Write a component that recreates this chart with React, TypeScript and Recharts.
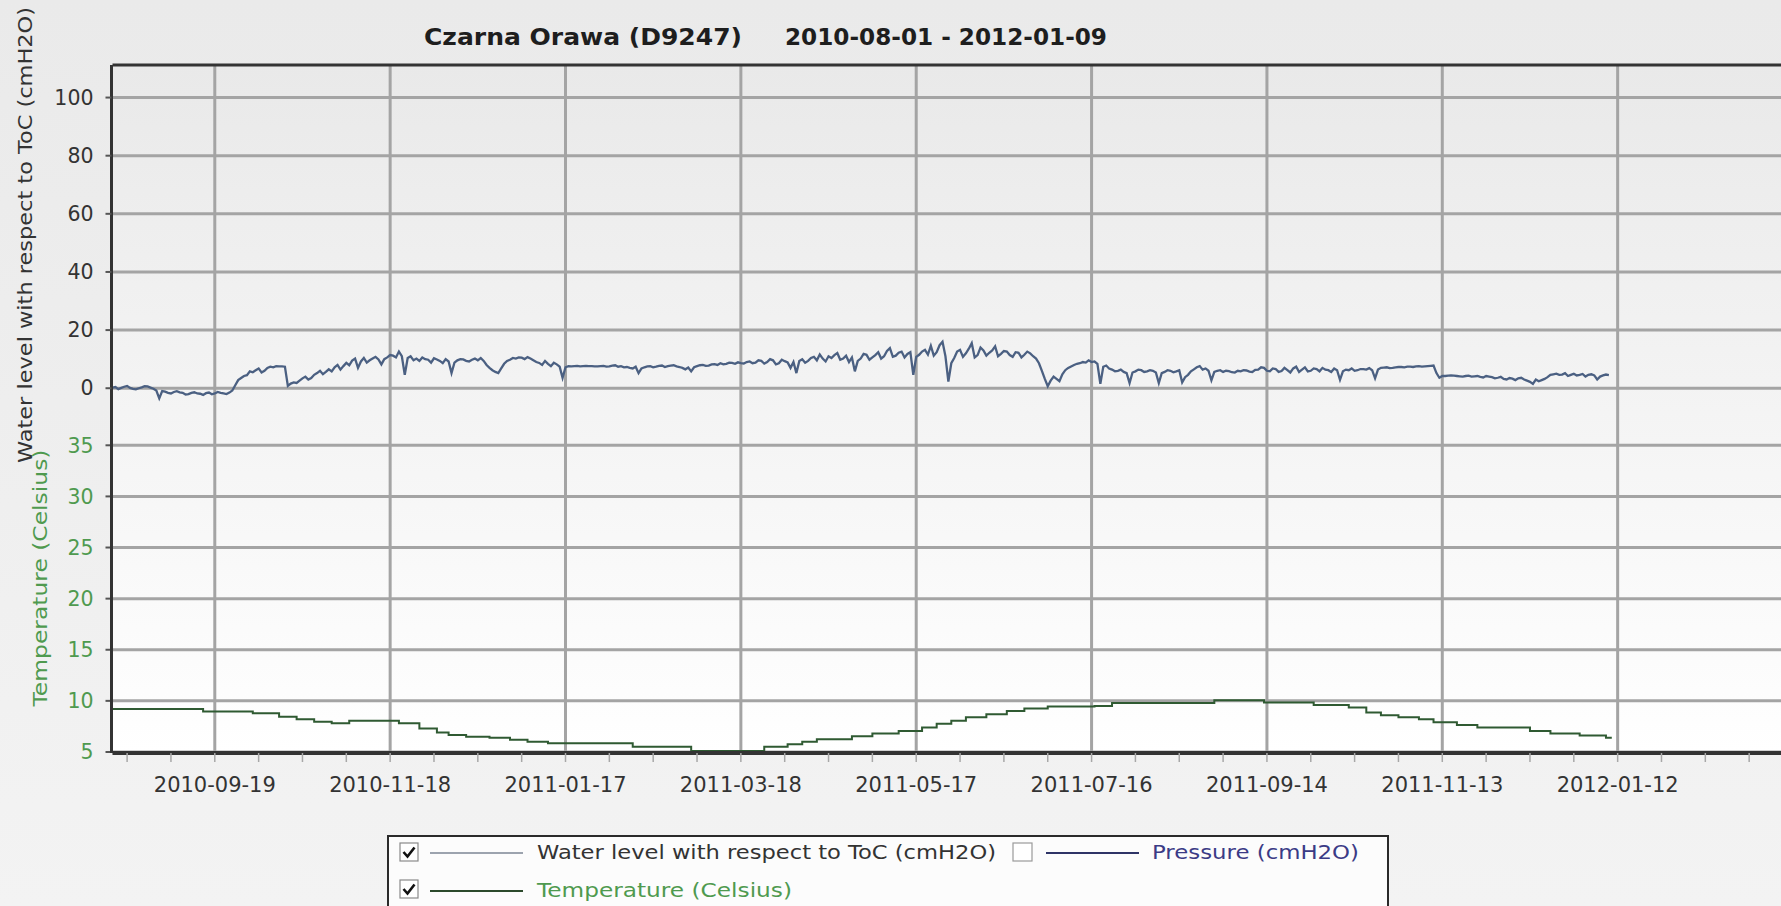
import React from 'react';
import { ComposedChart, Line, XAxis, YAxis, CartesianGrid } from 'recharts';

const FONT = '"DejaVu Sans", Verdana, sans-serif';

const TITLE_STATION = 'Czarna Orawa (D9247)';
const TITLE_RANGE = '2010-08-01 - 2012-01-09';
const WATER_LABEL = 'Water level with respect to ToC (cmH2O)';
const TEMP_LABEL = 'Temperature (Celsius)';
const PRESSURE_LABEL = 'Pressure (cmH2O)';

const X_DOMAIN = ['2010-08-15', '2012-03-25'];
const MAJOR_TICK_DATES = [
  '2010-09-19', '2010-11-18', '2011-01-17', '2011-03-18', '2011-05-17',
  '2011-07-16', '2011-09-14', '2011-11-13', '2012-01-12',
];
const MINOR_TICK_STEP_DAYS = 15;
const WATER_TICKS = [0, 20, 40, 60, 80, 100];
const TEMP_TICKS = [5, 10, 15, 20, 25, 30, 35];
const WATER_DOMAIN = [-125.5, 111.2];
const TEMP_DOMAIN = [4.9, 72.2];

// Water level with respect to ToC (cmH2O), one reading per day from 2010-08-15
const WATER_START = '2010-08-15';
const WATER_STEP_DAYS = 1;
const waterLevel = [
  0.2, 0.4, -0.3, 0.1, 0.5, 0.8, 0.1, -0.2, -0.4, 0.0, 0.3, 0.7, 0.6, 0.2, -0.2, -0.8, -3.5, -1.0, -1.2, -1.6,
  -1.8, -1.3, -1.0, -1.4, -1.6, -2.2, -2.0, -1.6, -1.4, -1.8, -1.9, -2.3, -1.7, -1.5, -2.1, -1.8, -1.3, -1.6, -1.8, -2.0,
  -1.5, -0.8, 1.0, 2.8, 3.5, 4.2, 4.5, 5.8, 5.5, 6.2, 6.8, 5.4, 6.0, 7.0, 7.4, 7.2, 7.6, 7.5, 7.5, 7.4,
  0.8, 1.6, 2.0, 1.8, 2.6, 3.4, 4.0, 3.0, 3.5, 4.6, 5.2, 6.0, 4.8, 5.6, 6.5, 5.8, 7.2, 8.0, 6.4, 7.6,
  8.7, 7.9, 9.5, 10.2, 7.0, 9.2, 10.4, 8.8, 9.6, 10.2, 10.8, 9.9, 8.2, 10.0, 10.6, 11.4, 11.2, 10.6, 12.6, 11.0,
  4.6, 10.4, 11.0, 9.6, 10.2, 9.4, 10.6, 10.0, 9.8, 8.8, 10.3, 9.9, 9.4, 8.6, 10.0, 9.2, 5.2, 8.8, 9.6, 10.0,
  9.9, 9.4, 9.2, 9.8, 10.2, 9.6, 10.4, 9.4, 8.0, 7.0, 6.2, 5.6, 5.2, 6.8, 8.4, 9.4, 9.8, 10.4, 10.2, 10.6,
  10.5, 10.0, 10.7, 10.2, 9.6, 9.0, 8.7, 8.0, 9.4, 8.4, 7.6, 8.8, 8.2, 7.4, 3.6, 7.2, 7.6, 7.5, 7.6, 7.7,
  7.5, 7.6, 7.7, 7.6, 7.6, 7.5, 7.5, 7.6, 7.7, 7.4, 7.5, 7.8, 7.9, 7.4, 7.6, 7.2, 7.3, 7.0, 6.8, 7.4,
  5.2, 6.8, 7.2, 7.5, 7.6, 7.2, 7.4, 7.7, 7.8, 7.3, 7.6, 7.8, 7.9, 7.5, 7.3, 7.0, 6.5, 7.1, 5.8, 7.2,
  7.6, 7.9, 8.0, 7.7, 7.8, 8.2, 8.3, 8.0, 8.6, 8.2, 8.4, 8.8, 8.7, 8.4, 8.9, 8.6, 8.5, 9.0, 9.2, 8.6,
  8.8, 9.6, 9.4, 8.5, 9.0, 10.0, 9.6, 8.2, 8.6, 9.8, 9.3, 8.9, 7.0, 9.0, 5.2, 9.4, 10.0, 8.8, 9.4, 10.4,
  10.8, 9.6, 11.6, 10.2, 9.2, 11.0, 10.4, 11.4, 12.1, 9.8, 10.2, 11.2, 9.0, 10.6, 5.8, 9.4, 10.2, 11.8, 11.5, 9.8,
  10.6, 11.4, 12.4, 10.2, 11.0, 12.8, 13.8, 10.8, 11.2, 12.2, 12.6, 10.6, 11.8, 12.4, 4.6, 10.8, 11.5, 12.6, 13.2, 11.6,
  14.6, 11.2, 12.4, 14.8, 16.0, 11.0, 2.3, 8.6, 10.4, 12.6, 13.2, 10.8, 12.0, 13.6, 15.5, 10.6, 11.4, 14.0, 13.0, 11.2,
  12.2, 13.0, 14.4, 11.0, 11.8, 12.8, 12.6, 11.4, 10.8, 12.4, 12.2, 10.6, 11.5, 12.6, 12.0, 11.0, 10.2, 8.6, 6.0, 3.2,
  0.7, 2.6, 4.0, 3.2, 2.4, 4.8, 6.2, 7.0, 7.5, 8.0, 8.4, 8.6, 9.0, 8.8, 9.6, 9.0, 9.2, 8.4, 1.5, 7.4,
  7.8, 6.8, 6.4, 5.8, 6.0, 6.4, 5.6, 5.2, 1.8, 5.4, 5.8, 6.4, 6.2, 5.6, 5.8, 6.2, 6.0, 5.4, 1.8, 5.2,
  5.6, 6.2, 6.0, 5.5, 5.8, 6.2, 2.0, 3.8, 4.6, 5.8, 6.5, 7.2, 7.6, 6.4, 6.8, 6.0, 2.7, 5.6, 6.0, 6.2,
  5.6, 6.0, 5.9, 5.5, 5.4, 6.0, 5.8, 6.2, 6.1, 5.7, 5.6, 6.3, 6.4, 7.2, 7.0, 6.0, 5.8, 6.8, 6.6, 5.6,
  5.9, 7.0, 6.2, 5.4, 6.8, 7.4, 5.6, 6.4, 7.2, 5.8, 6.0, 6.8, 6.6, 5.8, 7.0, 6.4, 6.2, 5.6, 6.8, 6.2,
  2.9, 5.8, 6.4, 6.2, 6.8, 6.0, 6.2, 6.6, 6.6, 6.4, 6.9, 6.2, 3.4, 6.4, 7.0, 7.1, 7.2, 6.9, 7.0, 7.2,
  7.3, 7.3, 7.2, 7.4, 7.4, 7.3, 7.5, 7.6, 7.4, 7.5, 7.6, 7.7, 7.8, 5.2, 3.6, 4.2, 4.2, 4.3, 4.4, 4.3,
  4.2, 4.1, 4.0, 4.2, 4.3, 4.0, 4.1, 4.2, 3.9, 3.7, 4.2, 4.0, 3.8, 3.4, 3.6, 3.9, 3.2, 3.0, 3.5, 3.3,
  2.8, 3.4, 3.6, 3.0, 2.6, 2.2, 1.5, 3.0, 2.4, 2.8, 3.2, 3.8, 4.6, 4.8, 5.0, 4.6, 4.7, 5.2, 4.2, 4.6,
  5.0, 4.4, 4.6, 4.9, 4.0, 4.6, 4.8, 4.4, 3.0, 4.0, 4.4, 4.7, 4.5,
];

// Temperature (Celsius), step changes
const tempDates = [
  '2010-08-15', '2010-09-15', '2010-10-02', '2010-10-11', '2010-10-17', '2010-10-23',
  '2010-10-29', '2010-11-04', '2010-11-21', '2010-11-28', '2010-12-04', '2010-12-08',
  '2010-12-14', '2010-12-22', '2010-12-29', '2011-01-04', '2011-01-11', '2011-02-09',
  '2011-03-01', '2011-03-26', '2011-04-03', '2011-04-08', '2011-04-13', '2011-04-25',
  '2011-05-02', '2011-05-11', '2011-05-19', '2011-05-24', '2011-05-29', '2011-06-03',
  '2011-06-10', '2011-06-17', '2011-06-23', '2011-07-01', '2011-07-17', '2011-07-23',
  '2011-08-27', '2011-09-13', '2011-09-30', '2011-10-12', '2011-10-18', '2011-10-23',
  '2011-10-29', '2011-11-05', '2011-11-10', '2011-11-18', '2011-11-25', '2011-12-13',
  '2011-12-20', '2011-12-30', '2012-01-08', '2012-01-10',
];
const tempValues = [
  9.2, 8.95, 8.8, 8.45, 8.2, 7.95,
  7.8, 8.05, 7.8, 7.3, 6.9, 6.65,
  6.5, 6.4, 6.2, 6.0, 5.85, 5.5,
  5.1, 5.5, 5.75, 6.0, 6.25, 6.55,
  6.8, 7.05, 7.4, 7.75, 8.05, 8.4,
  8.7, 9.0, 9.25, 9.45, 9.5, 9.8,
  10.05, 9.85, 9.6, 9.35, 8.85, 8.6,
  8.4, 8.2, 7.9, 7.65, 7.4, 7.05,
  6.8, 6.6, 6.4, 6.4,
];

const DAY = 86400000;
const toTs = (s: string) => Date.parse(s + 'T00:00:00Z');

const waterData = waterLevel.map((v, i) => ({
  t: toTs(WATER_START) + i * WATER_STEP_DAYS * DAY,
  water: v,
}));
const tempData = tempDates.map((d, i) => ({ t: toTs(d), temp: tempValues[i] }));

const majorTs = MAJOR_TICK_DATES.map(toTs);
const xDomain = X_DOMAIN.map(toTs);
const allXTicks: number[] = (() => {
  const step = MINOR_TICK_STEP_DAYS * DAY;
  let t = majorTs[0];
  while (t - step >= xDomain[0]) t -= step;
  const out: number[] = [];
  for (; t <= xDomain[1]; t += step) out.push(t);
  return out;
})();
const majorSet = new Set(majorTs);
const fmtDate = (v: number) => (majorSet.has(v) ? new Date(v).toISOString().slice(0, 10) : '');

const WATER_COLOR = '#4b6082';
const TEMP_COLOR = '#2f5a32';
const TEMP_TEXT = '#4f9a4f';
const GRID = '#a4a4a4';
const AXIS = '#333333';

function Overlay() {
  return (
    <svg
      width={1781}
      height={906}
      style={{ position: 'absolute', left: 0, top: 0, pointerEvents: 'none' }}
      fontFamily={FONT}
    >
      <text x={424} y={45} fontSize={23} fontWeight="bold" fill="#1e1e1e" textLength={318} lengthAdjust="spacingAndGlyphs">
        {TITLE_STATION}
      </text>
      <text x={785} y={45} fontSize={23} fontWeight="bold" fill="#1e1e1e" textLength={322} lengthAdjust="spacingAndGlyphs">
        {TITLE_RANGE}
      </text>
      <text
        x={32}
        y={235}
        transform="rotate(-90 32 235)"
        textAnchor="middle"
        fontSize={20}
        fill="#333"
        textLength={456}
        lengthAdjust="spacingAndGlyphs"
      >
        {WATER_LABEL}
      </text>
      <text
        x={47}
        y={578}
        transform="rotate(-90 47 578)"
        textAnchor="middle"
        fontSize={20}
        fill={TEMP_TEXT}
        textLength={257}
        lengthAdjust="spacingAndGlyphs"
      >
        {TEMP_LABEL}
      </text>
      <rect x={388} y={836} width={1000} height={90} fill="#fcfcfc" stroke="#2a2a2a" strokeWidth={2} />
      <rect x={400} y={843} width={18} height={18} fill="#fff" stroke="#8a8a8a" strokeWidth={1.2} />
      <path d="M403.5 852 l4 4.5 l7 -9" fill="none" stroke="#111" strokeWidth={2.6} />
      <line x1={430} x2={523} y1={853} y2={853} stroke="#7c8694" strokeWidth={1.5} />
      <text x={537} y={859} fontSize={19} fill="#333" textLength={459} lengthAdjust="spacingAndGlyphs">
        {WATER_LABEL}
      </text>
      <rect x={1013} y={843} width={19} height={18} fill="#fff" stroke="#9a9a9a" strokeWidth={1.2} />
      <line x1={1046} x2={1139} y1={853} y2={853} stroke="#2e3466" strokeWidth={1.8} />
      <text x={1152} y={859} fontSize={19} fill="#3b3b86" textLength={207} lengthAdjust="spacingAndGlyphs">
        {PRESSURE_LABEL}
      </text>
      <rect x={400} y={880} width={18} height={18} fill="#fff" stroke="#8a8a8a" strokeWidth={1.2} />
      <path d="M403.5 889 l4 4.5 l7 -9" fill="none" stroke="#111" strokeWidth={2.6} />
      <line x1={430} x2={523} y1={891} y2={891} stroke="#2c4a2c" strokeWidth={1.8} />
      <text x={537} y={897} fontSize={19} fill={TEMP_TEXT} textLength={255} lengthAdjust="spacingAndGlyphs">
        {TEMP_LABEL}
      </text>
    </svg>
  );
}

export default function App() {
  return (
    <div
      style={{
        position: 'absolute',
        left: 0,
        top: 0,
        width: 1781,
        height: 906,
        overflow: 'hidden',
        background: 'linear-gradient(#eaeaea, #f3f3f3)',
        fontFamily: FONT,
      }}
    >
      <ComposedChart width={1831} height={906} margin={{ top: 64, right: 0, bottom: 113, left: 51.5 }}>
        <defs>
          <linearGradient id="plotBg" x1="0" y1="0" x2="0" y2="1">
            <stop offset="0%" stopColor="#e9e9e9" />
            <stop offset="55%" stopColor="#f5f5f5" />
            <stop offset="100%" stopColor="#ffffff" />
          </linearGradient>
        </defs>
        <XAxis
          xAxisId="x"
          dataKey="t"
          type="number"
          domain={xDomain}
          allowDataOverflow
          ticks={allXTicks}
          interval={0}
          tickFormatter={fmtDate}
          height={40}
          tickSize={9}
          tickMargin={15}
          tick={{ fill: '#333', fontSize: 21, fontFamily: FONT }}
          tickLine={{ stroke: '#a8a8a8', strokeWidth: 1.5 }}
          axisLine={{ stroke: AXIS, strokeWidth: 4 }}
        />
        <XAxis
          xAxisId="top"
          orientation="top"
          dataKey="t"
          type="number"
          domain={xDomain}
          allowDataOverflow
          height={1}
          tick={false}
          tickLine={false}
          axisLine={{ stroke: AXIS, strokeWidth: 3 }}
        />
        <YAxis
          yAxisId="temp"
          type="number"
          domain={TEMP_DOMAIN}
          allowDataOverflow
          ticks={TEMP_TICKS}
          interval={0}
          width={1}
          tickSize={7}
          tickMargin={12}
          tick={{ fill: TEMP_TEXT, fontSize: 20.5, fontFamily: FONT }}
          tickLine={{ stroke: '#555', strokeWidth: 2 }}
          axisLine={false}
        />
        <YAxis
          yAxisId="water"
          type="number"
          domain={WATER_DOMAIN}
          allowDataOverflow
          ticks={WATER_TICKS}
          interval={0}
          width={60}
          tickSize={6}
          tickMargin={12}
          tick={{ fill: '#333', fontSize: 20.5, fontFamily: FONT }}
          tickLine={{ stroke: '#555', strokeWidth: 2 }}
          axisLine={{ stroke: AXIS, strokeWidth: 3 }}
        />
        <CartesianGrid
          xAxisId="x"
          yAxisId="water"
          verticalValues={majorTs}
          horizontalValues={WATER_TICKS}
          stroke={GRID}
          strokeWidth={3}
          fill="url(#plotBg)"
          fillOpacity={1}
        />
        <CartesianGrid
          xAxisId="x"
          yAxisId="temp"
          vertical={false}
          horizontalValues={TEMP_TICKS}
          stroke={GRID}
          strokeWidth={3}
          fill="none"
        />
        <Line
          data={waterData}
          dataKey="water"
          xAxisId="x"
          yAxisId="water"
          type="linear"
          stroke={WATER_COLOR}
          strokeWidth={2.3}
          dot={false}
          activeDot={false}
          isAnimationActive={false}
        />
        <Line
          data={tempData}
          dataKey="temp"
          xAxisId="x"
          yAxisId="temp"
          type="stepAfter"
          stroke={TEMP_COLOR}
          strokeWidth={2}
          dot={false}
          activeDot={false}
          isAnimationActive={false}
        />
      </ComposedChart>
      <Overlay />
    </div>
  );
}
